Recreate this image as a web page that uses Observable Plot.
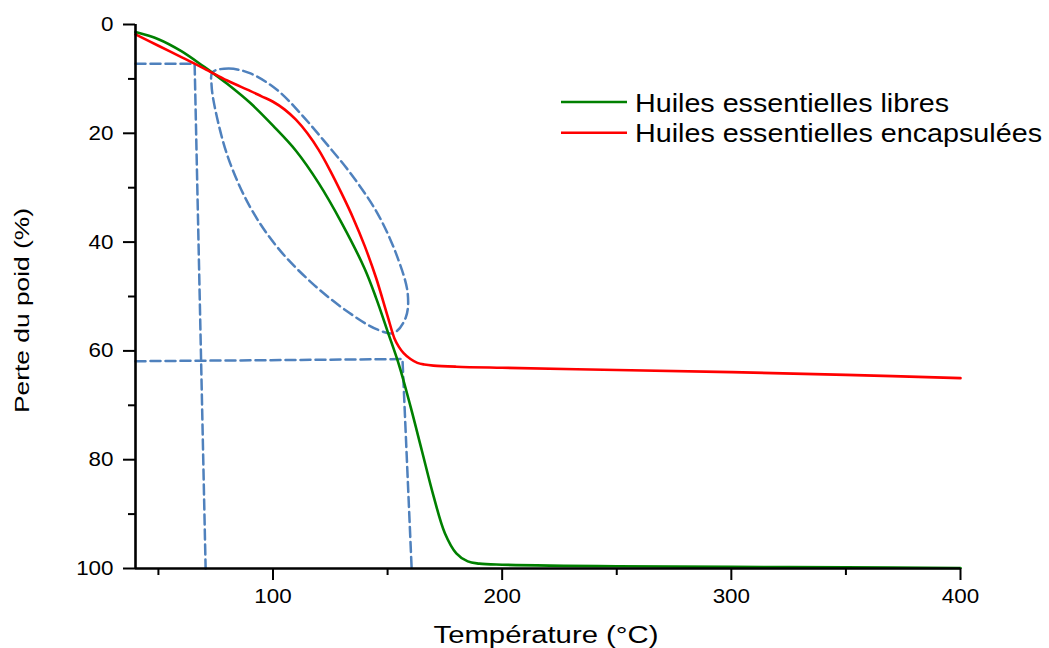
<!DOCTYPE html>
<html>
<head>
<meta charset="utf-8">
<script src="https://cdn.jsdelivr.net/npm/d3@7"></script>
<script src="https://cdn.jsdelivr.net/npm/@observablehq/plot@0.6"></script>
<style>
  html, body { margin: 0; padding: 0; background: #ffffff; }
  #chart { width: 1049px; height: 648px; }
  svg { font-family: "Liberation Sans", Arial, Helvetica, sans-serif; }
</style>
</head>
<body>
<div id="chart"></div>
<script>
// ---- Data ----
const seriesNames = ["Huiles essentielles libres", "Huiles essentielles encapsulées"];
const seriesColors = ["#008000", "#ff0000"];

// Huiles essentielles libres (green)
const libresTemp  = [40, 50, 60, 70, 74, 80, 90, 100, 110, 120, 130, 140, 145, 150, 155, 160, 165, 170, 175, 180, 185, 190, 200, 250, 300, 350, 400];
const libresPerte = [1.4, 2.7, 4.9, 7.8, 9.0, 10.9, 14.4, 18.6, 23.2, 29.2, 36.5, 44.9, 50.3, 56.4, 62.6, 70.2, 78.4, 86.6, 93.5, 97.2, 98.7, 99.1, 99.3, 99.6, 99.7, 99.8, 99.9];

// Huiles essentielles encapsulées (red)
const encapTemp  = [40, 50, 60, 70, 80, 90, 95, 100, 105, 110, 115, 120, 125, 130, 135, 140, 145, 150, 153, 155, 157, 160, 163, 166, 170, 180, 200, 250, 300, 350, 400];
const encapPerte = [1.8, 3.9, 6.0, 8.1, 10.3, 12.2, 13.2, 14.2, 15.6, 17.5, 20.0, 23.1, 26.9, 31.1, 35.6, 40.7, 46.6, 53.6, 57.7, 59.3, 60.4, 61.5, 62.2, 62.5, 62.7, 62.9, 63.1, 63.5, 63.9, 64.4, 65.0];

// Dashed guide lines (annotations)
const guide1Temp  = [40, 65.8, 70.6];
const guide1Perte = [7.2, 7.2, 100];
const guide2Temp  = [40, 156.5, 160.5];
const guide2Perte = [61.9, 61.5, 100];

// Dashed ellipse annotation
const ellipseTemp  = [73.6, 80.6, 90.2, 102.0, 112.1, 122.1, 133.9, 145.7, 154.4, 158.8, 157.9, 152.7, 145.7, 132.6, 116.4, 102.0, 90.2, 80.6, 74.9, 73.2];
const ellipsePerte = [8.8, 8.1, 9.0, 12.1, 16.4, 21.3, 27.4, 34.8, 42.9, 49.5, 53.9, 56.7, 56.1, 52.8, 47.3, 41.0, 33.7, 24.7, 15.8, 11.2];

// Ticks
const xTicksMajor = [100, 200, 300, 400];
const xTicksMinor = [50, 150, 250, 350];
const yTicksMajor = [0, 20, 40, 60, 80, 100];
const yTicksMinor = [10, 30, 50, 70, 90];

const xTitle = "Température (°C)";
const yTitle = "Perte du poid (%)";

// ---- Build tables ----
const zip = (xs, ys) => xs.map((t, i) => ({t, p: ys[i]}));
const libres = zip(libresTemp, libresPerte);
const encap = zip(encapTemp, encapPerte);
const guide1 = zip(guide1Temp, guide1Perte);
const guide2 = zip(guide2Temp, guide2Perte);
const ellipse = zip(ellipseTemp, ellipsePerte);

const dashBlue = "#4f81bd";
const dashStyle = {x: "t", y: "p", stroke: dashBlue, strokeWidth: 2.5, strokeDasharray: "10,5"};

const svg = Plot.plot({
  width: 1049,
  height: 648,
  marginLeft: 135,
  marginRight: 89,
  marginTop: 24,
  marginBottom: 80,
  style: {background: "#ffffff", color: "black", fontFamily: "'Liberation Sans', Arial, sans-serif", fontSize: "20px", overflow: "visible"},
  x: {domain: [40, 400], label: null, axis: null},
  y: {domain: [0, 100], reverse: true, label: null, axis: null},
  marks: [
    Plot.line(guide1, dashStyle),
    Plot.line(guide2, dashStyle),
    Plot.line(ellipse, {...dashStyle, curve: "catmull-rom-closed"}),
    Plot.line(libres, {x: "t", y: "p", stroke: seriesColors[0], strokeWidth: 2.6, curve: "catmull-rom"}),
    Plot.line(encap, {x: "t", y: "p", stroke: seriesColors[1], strokeWidth: 2.6, curve: "catmull-rom"}),
    Plot.ruleX([40], {stroke: "black", strokeWidth: 2.6}),
    Plot.ruleY([100], {stroke: "black", strokeWidth: 2.6}),
    Plot.axisX({ticks: xTicksMajor, tickSize: 12, tickPadding: 8, strokeWidth: 2, fontSize: 20, label: null, fill: "black", stroke: "black"}),
    Plot.axisX({ticks: xTicksMinor, tickSize: 7, strokeWidth: 2, tickFormat: () => "", label: null, stroke: "black"}),
    Plot.axisY({ticks: yTicksMajor, tickSize: 12, tickPadding: 10, strokeWidth: 2, fontSize: 20, label: null, fill: "black", stroke: "black"}),
    Plot.axisY({ticks: yTicksMinor, tickSize: 7, strokeWidth: 2, tickFormat: () => "", label: null, stroke: "black"})
  ]
});

document.getElementById("chart").append(svg);

const root = d3.select(svg);

// Axis titles
root.append("text")
  .attr("class", "xtitle")
  .attr("x", 546).attr("y", 643)
  .attr("text-anchor", "middle")
  .attr("font-size", 23)
  .attr("fill", "black")
  .text(xTitle);

root.append("text")
  .attr("class", "ytitle")
  .attr("transform", "translate(29,310.5) rotate(-90)")
  .attr("text-anchor", "middle")
  .attr("font-size", 21)
  .attr("fill", "black")
  .text(yTitle);

// Legend
const legend = root.append("g").attr("class", "legend").attr("text-anchor", "start");
const legendRows = [
  {name: seriesNames[0], color: seriesColors[0], ly: 102, ty: 111.5, len: 314},
  {name: seriesNames[1], color: seriesColors[1], ly: 132.7, ty: 141.7, len: 407}
];
legendRows.forEach(r => {
  legend.append("line")
    .attr("x1", 561).attr("x2", 627)
    .attr("y1", r.ly).attr("y2", r.ly)
    .attr("stroke", r.color).attr("stroke-width", 2.6);
  legend.append("text")
    .attr("x", 635).attr("y", r.ty)
    .attr("text-anchor", "start")
    .attr("font-size", 25)
    .attr("fill", "black")
    .attr("textLength", r.len)
    .attr("lengthAdjust", "spacingAndGlyphs")
    .text(r.name);
});

// Text width adjustments to match the reference's wider glyphs
function stretchTo(node, target) {
  node.setAttribute("textLength", target);
  node.setAttribute("lengthAdjust", "spacingAndGlyphs");
}
stretchTo(root.select(".xtitle").node(), 225);
stretchTo(root.select(".ytitle").node(), 205);

root.selectAll("text").each(function () {
  if (this.closest(".legend")) return;
  if (this.classList.contains("xtitle") || this.classList.contains("ytitle")) return;
  const txt = this.textContent;
  if (!txt) return;
  const l = this.getComputedTextLength();
  if (l > 0) stretchTo(this, l * 1.12);
});
</script>
</body>
</html>
